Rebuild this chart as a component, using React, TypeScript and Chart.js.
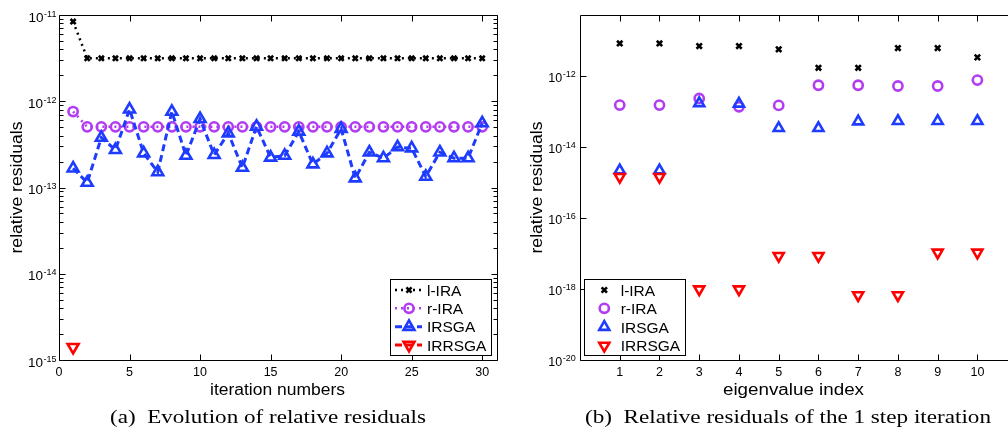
import React, { useEffect, useRef } from 'react';
import { Chart, registerables } from 'chart.js';

Chart.register(...registerables);

// ---------------- data ----------------
const seriesNames = ['l-IRA', 'r-IRA', 'IRSGA', 'IRRSGA'];

const iterationNumbers = [1, 2, 3, 4, 5, 6, 7, 8, 9, 10, 11, 12, 13, 14, 15, 16, 17, 18, 19, 20, 21, 22, 23, 24, 25, 26, 27, 28, 29, 30];
const lIRAIter = [8.4e-12, 3.15e-12, 3.15e-12, 3.15e-12, 3.15e-12, 3.15e-12, 3.15e-12, 3.15e-12, 3.15e-12, 3.15e-12, 3.15e-12, 3.15e-12, 3.15e-12, 3.15e-12, 3.15e-12, 3.15e-12, 3.15e-12, 3.15e-12, 3.15e-12, 3.15e-12, 3.15e-12, 3.15e-12, 3.15e-12, 3.15e-12, 3.15e-12, 3.15e-12, 3.15e-12, 3.15e-12, 3.15e-12, 3.15e-12];
const rIRAIter = [7.6e-13, 5.05e-13, 5.05e-13, 5.05e-13, 5.05e-13, 5.05e-13, 5.05e-13, 5.05e-13, 5.05e-13, 5.05e-13, 5.05e-13, 5.05e-13, 5.05e-13, 5.05e-13, 5.05e-13, 5.05e-13, 5.05e-13, 5.05e-13, 5.05e-13, 5.05e-13, 5.05e-13, 5.05e-13, 5.05e-13, 5.05e-13, 5.05e-13, 5.05e-13, 5.05e-13, 5.05e-13, 5.05e-13, 5.05e-13];
const irsgaIter = [1.67e-13, 1.14e-13, 3.79e-13, 2.73e-13, 8.06e-13, 2.5e-13, 1.51e-13, 7.58e-13, 2.34e-13, 6.24e-13, 2.39e-13, 4.26e-13, 1.7e-13, 5.09e-13, 2.23e-13, 2.34e-13, 4.46e-13, 1.86e-13, 2.5e-13, 4.8e-13, 1.28e-13, 2.56e-13, 2.19e-13, 2.94e-13, 2.85e-13, 1.34e-13, 2.56e-13, 2.19e-13, 2.19e-13, 5.57e-13];
const irrsgaIter = [1.41e-15, null, null, null, null, null, null, null, null, null, null, null, null, null, null, null, null, null, null, null, null, null, null, null, null, null, null, null, null, null];

const eigenIndex = [1, 2, 3, 4, 5, 6, 7, 8, 9, 10];
const lIRAEig = [8.3e-12, 8.3e-12, 7.0e-12, 7.0e-12, 5.65e-12, 1.71e-12, 1.71e-12, 6.15e-12, 6.15e-12, 3.36e-12];
const rIRAEig = [1.52e-13, 1.52e-13, 2.34e-13, 1.36e-13, 1.49e-13, 5.5e-13, 5.5e-13, 5.25e-13, 5.25e-13, 7.7e-13];
const irsgaEig = [2.2e-15, 2.2e-15, 1.72e-13, 1.66e-13, 3.4e-14, 3.4e-14, 5.25e-14, 5.4e-14, 5.4e-14, 5.4e-14];
const irrsgaEig = [1.44e-15, 1.44e-15, 9.8e-19, 9.8e-19, 8.6e-18, 8.6e-18, 6.7e-19, 6.7e-19, 1.07e-17, 1.07e-17];

const iterXTicks = [0, 5, 10, 15, 20, 25, 30];
const iterYExponents = [-15, -14, -13, -12, -11];
const eigXTicks = [1, 2, 3, 4, 5, 6, 7, 8, 9, 10];
const eigYExponents = [-20, -18, -16, -14, -12];

const captionA = '(a)\u2002Evolution of relative residuals';
const captionB = '(b)\u2002Relative residuals of the 1 step iteration';

// ---------------- styles ----------------
const BLACK = '#000000';
const PURPLE = '#B23CF2';
const BLUE = '#1E3CFF';
const RED = '#FF0000';
const SANS = '"Liberation Sans", Arial, Helvetica, sans-serif';
const SERIF = '"Liberation Serif", "Times New Roman", Times, serif';

function drawMarker(ctx: CanvasRenderingContext2D, style: string, x: number, y: number, r: number, rot: number, color: string, lw: number) {
  ctx.save();
  ctx.setLineDash([]);
  ctx.strokeStyle = color;
  ctx.lineWidth = lw;
  ctx.beginPath();
  if (style === 'circle') {
    ctx.arc(x, y, r, 0, Math.PI * 2);
  } else if (style === 'triangle') {
    let rad = (rot * Math.PI) / 180;
    for (let k = 0; k < 3; k++) {
      const px = x + Math.sin(rad) * r;
      const py = y - Math.cos(rad) * r;
      if (k === 0) ctx.moveTo(px, py);
      else ctx.lineTo(px, py);
      rad += (2 * Math.PI) / 3;
    }
    ctx.closePath();
  } else {
    const o = Math.cos(Math.PI / 4) * r;
    ctx.moveTo(x - o, y - o);
    ctx.lineTo(x + o, y + o);
    ctx.moveTo(x + o, y - o);
    ctx.lineTo(x - o, y + o);
  }
  ctx.stroke();
  ctx.restore();
}

function drawText(ctx: CanvasRenderingContext2D, s: string, x: number, y: number, font: string, align: CanvasTextAlign, targetWidth?: number, rotate?: boolean) {
  ctx.save();
  ctx.font = font;
  ctx.textAlign = align;
  ctx.textBaseline = 'alphabetic';
  ctx.fillStyle = BLACK;
  ctx.translate(x, y);
  if (rotate) ctx.rotate(-Math.PI / 2);
  if (targetWidth) {
    const w = ctx.measureText(s).width;
    ctx.scale(targetWidth / w, 1);
  }
  ctx.fillText(s, 0, 0);
  ctx.restore();
}

type AxesCfg = {
  xTicks: number[];
  yExps: number[];
  yMinor: boolean;
  rightTicks: boolean;
  xTickFont: string;
  yBaseFont: string;
  ySupFont: string;
  yBaseDy: number;
  ySupDy: number;
  yLabelGap: number;
  xTitle: string;
  xTitleX: number;
  xTitleWidth: number;
  yTitle: string;
  yTitleX: number;
  yTitleLen: number;
  caption: string;
  captionX: number;
  captionWidth: number;
  legend: {
    left: number; top: number; width: number; height: number;
    rows: number[]; lineX0: number; lineX1: number; markerX: number; textX: number; showLines: boolean;
  };
};

function makeAxesPlugin(cfg: AxesCfg) {
  return {
    id: 'matlabAxes',
    afterDraw(chart: any) {
      const ctx: CanvasRenderingContext2D = chart.ctx;
      const a = chart.chartArea;
      const xs = chart.scales.x;
      const ys = chart.scales.y;
      const L = Math.round(a.left) + 0.5;
      const R = Math.round(a.right) + 0.5;
      const T = Math.round(a.top) + 0.5;
      const B = Math.round(a.bottom) + 0.5;
      ctx.save();
      ctx.strokeStyle = BLACK;
      ctx.lineWidth = 1;
      ctx.setLineDash([]);
      ctx.beginPath();
      ctx.rect(L, T, R - L, B - T);
      cfg.xTicks.forEach((v) => {
        const px = Math.round(xs.getPixelForValue(v)) + 0.5;
        ctx.moveTo(px, B); ctx.lineTo(px, B - 6);
        ctx.moveTo(px, T); ctx.lineTo(px, T + 6);
      });
      cfg.yExps.forEach((e) => {
        const py = Math.round(ys.getPixelForValue(Math.pow(10, e))) + 0.5;
        ctx.moveTo(L, py); ctx.lineTo(L + 6, py);
        if (cfg.rightTicks) { ctx.moveTo(R, py); ctx.lineTo(R - 6, py); }
      });
      if (cfg.yMinor) {
        for (let i = 0; i < cfg.yExps.length - 1; i++) {
          const e = cfg.yExps[i];
          for (let m = 2; m <= 9; m++) {
            const py = Math.round(ys.getPixelForValue(m * Math.pow(10, e))) + 0.5;
            ctx.moveTo(L, py); ctx.lineTo(L + 4, py);
            if (cfg.rightTicks) { ctx.moveTo(R, py); ctx.lineTo(R - 4, py); }
          }
        }
      }
      ctx.stroke();
      ctx.restore();

      cfg.xTicks.forEach((v) => {
        const px = xs.getPixelForValue(v);
        drawText(ctx, String(v), px, B + 15, cfg.xTickFont, 'center');
      });
      cfg.yExps.forEach((e) => {
        const py = ys.getPixelForValue(Math.pow(10, e));
        const sup = String(e);
        ctx.save();
        ctx.font = cfg.ySupFont;
        const ws = ctx.measureText(sup).width;
        ctx.restore();
        const xr = a.left - cfg.yLabelGap;
        drawText(ctx, sup, xr, py + cfg.ySupDy, cfg.ySupFont, 'right');
        drawText(ctx, '10', xr - ws - 0.5, py + cfg.yBaseDy, cfg.yBaseFont, 'right');
      });
      drawText(ctx, cfg.xTitle, cfg.xTitleX, 395, `16px ${SANS}`, 'center', cfg.xTitleWidth);
      drawText(ctx, cfg.yTitle, cfg.yTitleX, (a.top + a.bottom) / 2, `16px ${SANS}`, 'center', cfg.yTitleLen, true);
      drawText(ctx, cfg.caption, cfg.captionX, 422.5, `19.5px ${SERIF}`, 'left', cfg.captionWidth);

      const lg = cfg.legend;
      ctx.save();
      ctx.fillStyle = '#ffffff';
      ctx.fillRect(lg.left, lg.top, lg.width, lg.height);
      ctx.strokeStyle = BLACK;
      ctx.lineWidth = 1;
      ctx.strokeRect(Math.round(lg.left) + 0.5, Math.round(lg.top) + 0.5, Math.round(lg.width), Math.round(lg.height));
      ctx.restore();
      chart.data.datasets.forEach((ds: any, i: number) => {
        const y = lg.rows[i];
        if (lg.showLines) {
          ctx.save();
          ctx.strokeStyle = ds.borderColor;
          ctx.lineWidth = ds.borderWidth;
          ctx.setLineDash(ds.borderDash || []);
          ctx.beginPath();
          ctx.moveTo(lg.lineX0, y);
          ctx.lineTo(lg.lineX1, y);
          ctx.stroke();
          ctx.restore();
        }
        drawMarker(ctx, ds.pointStyle, lg.markerX, y, ds.pointRadius, ds.pointRotation || 0, ds.pointBorderColor, ds.pointBorderWidth);
        drawText(ctx, ds.label, lg.textX, y + 5.5, `15.5px ${SANS}`, 'left');
      });
    },
  };
}

function makeDatasets(xs: number[], series: (number | null)[][], showLine: boolean, sizes: { cross: number; circle: number; tri: number }) {
  const colors = [BLACK, PURPLE, BLUE, RED];
  const styles = ['crossRot', 'circle', 'triangle', 'triangle'];
  const rotations = [0, 0, 0, 180];
  const radii = [sizes.cross, sizes.circle, sizes.tri, sizes.tri];
  const pointWidths = [2.6, 2.6, 2.6, 2.6];
  const dashes = [[2, 4], [2, 4], [7, 4], [7, 4]];
  const widths = [2.5, 2.5, 3, 3];
  return series.map((vals, i) => ({
    label: seriesNames[i],
    data: vals.map((v, j) => ({ x: xs[j], y: v })),
    showLine,
    borderColor: colors[i],
    borderWidth: widths[i],
    borderDash: dashes[i],
    backgroundColor: 'rgba(0,0,0,0)',
    pointStyle: styles[i],
    pointRotation: rotations[i],
    pointRadius: radii[i],
    pointBorderWidth: pointWidths[i],
    pointBorderColor: colors[i],
    pointBackgroundColor: 'rgba(0,0,0,0)',
    fill: false,
    tension: 0,
    spanGaps: false,
    clip: false,
    order: 4 - i,
  }));
}

function leftConfig(): any {
  const datasets = makeDatasets(iterationNumbers, [lIRAIter, rIRAIter, irsgaIter, irrsgaIter], true, { cross: 3.6, circle: 4.6, tri: 6.3 });
  return {
    type: 'scatter',
    data: { datasets },
    options: {
      animation: false,
      responsive: false,
      maintainAspectRatio: false,
      devicePixelRatio: 1,
      events: [],
      layout: { autoPadding: false, padding: { left: 59, top: 15, right: 7, bottom: 72 } },
      scales: {
        x: { type: 'linear', display: false, min: 0, max: 31.05 },
        y: { type: 'logarithmic', display: false, min: 1e-15, max: 1e-11 },
      },
      plugins: { legend: { display: false }, tooltip: { enabled: false } },
    },
    plugins: [
      makeAxesPlugin({
        xTicks: iterXTicks,
        yExps: iterYExponents,
        yMinor: true,
        rightTicks: true,
        xTickFont: `12.5px ${SANS}`,
        yBaseFont: `13.5px ${SANS}`,
        ySupFont: `9px ${SANS}`,
        yBaseDy: 6.5,
        ySupDy: 1.5,
        yLabelGap: 2.6,
        xTitle: 'iteration numbers',
        xTitleX: 277.5,
        xTitleWidth: 135,
        yTitle: 'relative residuals',
        yTitleX: 21.5,
        yTitleLen: 132,
        caption: captionA,
        captionX: 110,
        captionWidth: 316,
        legend: { left: 390, top: 279, width: 101, height: 76, rows: [290, 308.3, 326.7, 345], lineX0: 395, lineX1: 422, markerX: 409, textX: 427, showLines: true },
      }),
    ],
  };
}

function rightConfig(): any {
  const datasets = makeDatasets(eigenIndex, [lIRAEig, rIRAEig, irsgaEig, irrsgaEig], false, { cross: 3.8, circle: 4.6, tri: 5.8 });
  return {
    type: 'scatter',
    data: { datasets },
    options: {
      animation: false,
      responsive: false,
      maintainAspectRatio: false,
      devicePixelRatio: 1,
      events: [],
      layout: { autoPadding: false, padding: { left: 76, top: 15, right: 0, bottom: 72 } },
      scales: {
        x: { type: 'linear', display: false, min: 0, max: 10.77 },
        y: { type: 'logarithmic', display: false, min: 1e-20, max: Math.pow(10, -10.28) },
      },
      plugins: { legend: { display: false }, tooltip: { enabled: false } },
    },
    plugins: [
      makeAxesPlugin({
        xTicks: eigXTicks,
        yExps: eigYExponents,
        yMinor: false,
        rightTicks: false,
        xTickFont: `12.5px ${SANS}`,
        yBaseFont: `12.5px ${SANS}`,
        ySupFont: `9px ${SANS}`,
        yBaseDy: 5.5,
        ySupDy: 0.5,
        yLabelGap: 4.3,
        xTitle: 'eigenvalue index',
        xTitleX: 289.5,
        xTitleWidth: 141,
        yTitle: 'relative residuals',
        yTitleX: 37.7,
        yTitleLen: 132,
        caption: captionB,
        captionX: 81,
        captionWidth: 406,
        legend: { left: 80.3, top: 279, width: 100.7, height: 76, rows: [290, 308.3, 327, 345.7], lineX0: 88, lineX1: 112, markerX: 100.3, textX: 116.7, showLines: false },
      }),
    ],
  };
}

function ChartCanvas({ makeConfig, left, width, height }: { makeConfig: () => any; left: number; width: number; height: number }) {
  const ref = useRef<HTMLCanvasElement>(null);
  useEffect(() => {
    const chart = new Chart(ref.current as HTMLCanvasElement, makeConfig());
    return () => chart.destroy();
  }, []);
  return (
    <div style={{ position: 'absolute', left, top: 0, width, height }}>
      <canvas ref={ref} width={width} height={height} style={{ display: 'block', width, height }} />
    </div>
  );
}

export default function App() {
  return (
    <div style={{ position: 'fixed', left: 0, top: 0, width: 1008, height: 432, overflow: 'hidden', background: '#fff' }}>
      <ChartCanvas makeConfig={leftConfig} left={0} width={504} height={432} />
      <ChartCanvas makeConfig={rightConfig} left={504} width={504} height={432} />
    </div>
  );
}
